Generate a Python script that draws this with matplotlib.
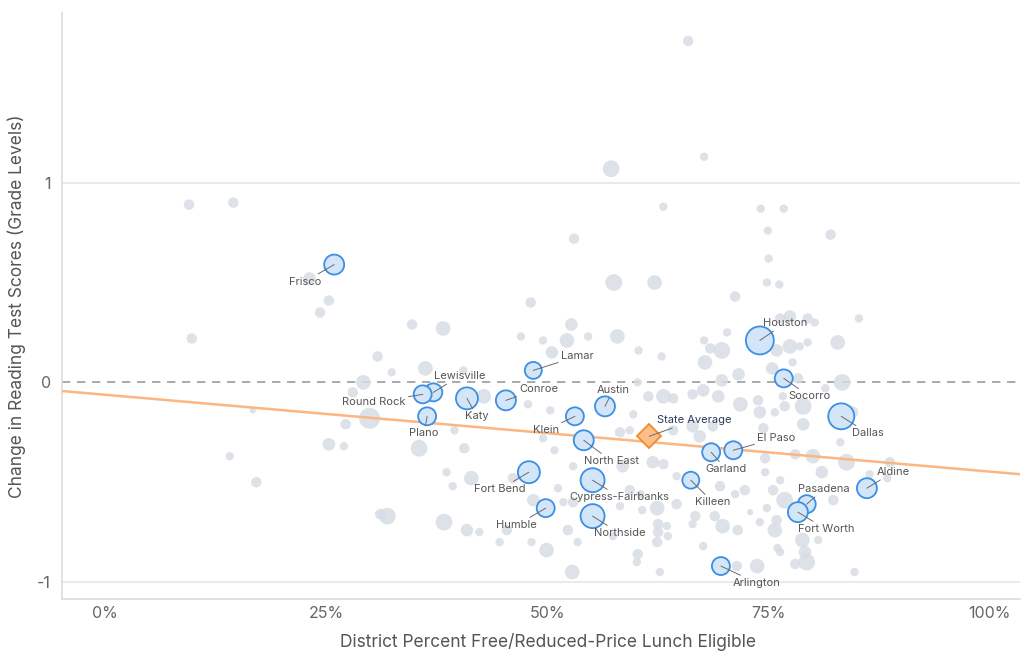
#!/usr/bin/env python3
"""
Change in reading test scores vs. share of students eligible for free/reduced lunch,
Texas school districts. Large districts are highlighted and labelled.
"""

import matplotlib

matplotlib.use("Agg")
import matplotlib.pyplot as plt
import numpy as np

# --- data ---
# all other districts (gray bubbles): % FRL eligible, change in grade levels, size (~enrollment, k)
other_frl = [
    65.9, 67.7, 57.2, 9.5, 14.5, 53.0, 63.1, 74.1, 76.7, 74.9, 82.0, 75.0, 57.5, 62.1, 48.1,
    23.1, 25.3, 24.3, 34.7, 38.2, 52.7, 47.0, 74.8, 76.2, 71.2, 85.2, 9.8, 30.8, 32.4, 36.2,
    40.5, 29.2, 29.9, 28.0, 27.2, 42.8, 47.8, 39.5, 16.7, 14.1, 17.1, 25.3, 27.0, 52.2, 49.5,
    54.6, 57.9, 60.3, 62.9, 50.5, 67.7, 68.4, 69.7, 67.8, 69.7, 60.2, 61.4, 63.1, 64.2, 66.4,
    67.6, 69.3, 50.3, 59.7, 64.2, 66.4, 68.7, 70.3, 77.4, 76.3, 79.4, 80.2, 75.9, 77.4, 78.5,
    79.4, 82.8, 77.7, 75.4, 71.6, 78.3, 83.3, 81.4, 73.8, 76.6, 71.8, 76.8, 78.9, 74.0, 75.7,
    78.9, 74.4, 84.4, 35.5, 40.6, 38.6, 41.4, 39.3, 46.1, 48.4, 31.1, 31.9, 38.3, 40.9, 42.3,
    45.4, 44.6, 48.2, 49.5, 50.8, 58.2, 59.3, 67.2, 61.9, 63.1, 58.5, 52.9, 64.6, 69.5, 51.2,
    59.3, 60.5, 51.8, 52.9, 58.2, 60.7, 62.4, 64.6, 66.7, 68.9, 69.8, 62.5, 63.5, 52.3, 66.4,
    62.5, 63.6, 57.4, 53.4, 62.4, 49.9, 67.6, 60.2, 60.1, 62.7, 52.8, 83.1, 74.6, 80.0, 78.0,
    83.8, 81.0, 74.6, 76.3, 75.5, 72.3, 71.2, 76.8, 82.3, 88.4, 74.8, 72.9, 75.9, 75.7, 74.0,
    71.5, 80.6, 78.8, 79.1, 76.0, 76.3, 78.0, 79.3, 73.7, 71.4, 84.7, 88.7, 86.4,
]
other_change = [
    1.71, 1.13, 1.07, 0.89, 0.90, 0.72, 0.88, 0.87, 0.87, 0.76, 0.74, 0.62, 0.50, 0.50, 0.40,
    0.52, 0.41, 0.35, 0.29, 0.27, 0.29, 0.23, 0.50, 0.49, 0.43, 0.32, 0.22, 0.13, 0.05, 0.07,
    0.06, 0.00, -0.18, -0.05, -0.21, -0.07, -0.11, -0.24, -0.14, -0.37, -0.50, -0.31, -0.32, 0.21, 0.21,
    0.23, 0.23, 0.16, 0.13, 0.15, 0.21, 0.17, 0.16, 0.10, 0.01, 0.00, -0.07, -0.07, -0.08, -0.06,
    -0.04, -0.07, -0.14, -0.16, -0.24, -0.22, -0.22, 0.25, 0.33, 0.32, 0.32, 0.30, 0.16, 0.18, 0.18,
    0.20, 0.20, 0.10, 0.07, 0.04, 0.02, 0.00, -0.03, -0.09, -0.07, -0.11, -0.12, -0.12, -0.15, -0.15,
    -0.21, -0.23, -0.15, -0.33, -0.33, -0.45, -0.48, -0.52, -0.48, -0.59, -0.66, -0.67, -0.70, -0.74, -0.75,
    -0.74, -0.80, -0.80, -0.28, -0.34, -0.25, -0.24, -0.27, -0.40, -0.41, -0.42, -0.42, -0.47, -0.52, -0.53,
    -0.54, -0.56, -0.60, -0.60, -0.62, -0.64, -0.63, -0.61, -0.67, -0.67, -0.72, -0.71, -0.72, -0.74, -0.71,
    -0.75, -0.77, -0.77, -0.80, -0.80, -0.84, -0.82, -0.86, -0.90, -0.95, -0.95, -0.30, -0.38, -0.37, -0.36,
    -0.40, -0.45, -0.45, -0.49, -0.54, -0.54, -0.56, -0.59, -0.59, -0.48, -0.63, -0.65, -0.69, -0.74, -0.70,
    -0.74, -0.79, -0.79, -0.85, -0.83, -0.85, -0.91, -0.90, -0.92, -0.92, -0.95, -0.40, -0.46,
]
other_enroll_k = [
    25, 16, 64, 25, 25, 25, 16, 16, 16, 16, 25, 16, 64, 49, 25,
    36, 25, 25, 25, 49, 36, 16, 16, 16, 25, 16, 25, 25, 16, 49,
    16, 49, 100, 25, 25, 49, 16, 16, 9, 16, 25, 36, 16, 49, 16,
    16, 49, 16, 16, 36, 16, 25, 64, 49, 36, 16, 25, 49, 25, 25,
    36, 36, 16, 16, 25, 36, 25, 16, 36, 25, 25, 16, 36, 49, 16,
    16, 49, 16, 36, 36, 25, 64, 16, 25, 16, 49, 25, 64, 36, 16,
    36, 25, 36, 64, 25, 16, 49, 16, 25, 36, 25, 64, 64, 36, 16,
    25, 16, 16, 16, 16, 25, 16, 36, 36, 25, 36, 16, 16, 25, 16,
    25, 16, 16, 25, 16, 16, 49, 25, 25, 25, 49, 25, 16, 25, 16,
    25, 16, 16, 16, 25, 49, 16, 25, 16, 16, 49, 16, 25, 49, 25,
    64, 36, 16, 16, 25, 25, 16, 64, 25, 16, 16, 9, 25, 49, 16,
    25, 16, 49, 36, 16, 16, 25, 64, 49, 25, 16, 25, 16,
]

# highlighted large districts
big_names = [
    "Frisco", "Houston", "Socorro", "Lewisville", "Round Rock", "Plano", "Katy", "Conroe",
    "Lamar", "Austin", "Klein", "North East", "Cypress-Fairbanks", "Fort Bend", "Humble",
    "Northside", "Garland", "El Paso", "Killeen", "Dallas", "Aldine", "Pasadena",
    "Fort Worth", "Arlington",
]
big_frl = [
    25.9, 74.0, 76.7, 37.1, 35.9, 36.4, 40.9, 45.3, 48.4, 56.5, 53.1, 54.1, 55.1, 47.9, 49.8,
    55.1, 68.5, 71.0, 66.2, 83.2, 86.1, 79.3, 78.3, 69.6,
]
big_change = [
    0.59, 0.21, 0.02, -0.05, -0.06, -0.17, -0.08, -0.09, 0.06, -0.12, -0.17, -0.29, -0.49, -0.45,
    -0.63, -0.67, -0.35, -0.34, -0.49, -0.17, -0.53, -0.61, -0.65, -0.92,
]
big_enroll_k = [
    100, 196, 81, 81, 81, 81, 121, 100, 72, 100, 81, 100, 144, 121, 81,
    144, 81, 81, 72, 169, 100, 81, 100, 81,
]

state_frl = 61.5
state_change = -0.27

# fitted trend line
trend_intercept = -0.062
trend_slope = -0.00385

# label placement (offset in pixels from bubble centre, text alignment)
label_layout = {
    "Frisco": (-13, -17, "right"),
    "Houston": (25, 17, "center"),
    "Socorro": (26, -18, "center"),
    "Lewisville": (26, 16, "center"),
    "Round Rock": (-17, -8, "right"),
    "Plano": (-3, -17, "center"),
    "Katy": (10, -18, "center"),
    "Conroe": (33, 11, "center"),
    "Lamar": (44, 14, "center"),
    "Austin": (8, 16, "center"),
    "Klein": (-16, -14, "right"),
    "North East": (28, -21, "center"),
    "Cypress-Fairbanks": (27, -17, "center"),
    "Fort Bend": (-3, -17, "right"),
    "Humble": (-29, -17, "center"),
    "Northside": (27, -17, "center"),
    "Garland": (15, -17, "center"),
    "El Paso": (43, 12, "center"),
    "Killeen": (22, -22, "center"),
    "Dallas": (27, -17, "center"),
    "Aldine": (26, 16, "center"),
    "Pasadena": (17, 15, "center"),
    "Fort Worth": (28, -17, "center"),
    "Arlington": (36, -17, "center"),
}

# size scale: marker area (pt^2) per thousand students
SIZE_SCALE = 2.07

plt.rcParams["font.family"] = ["Inter", "DejaVu Sans"]

fig = plt.figure(figsize=(10.22, 6.52), dpi=100)
ax = fig.add_axes([62 / 1022, 1 - 599 / 652, (1020 - 62) / 1022, (599 - 13) / 652])

ax.set_xlim(-4.86, 103.4)
ax.set_ylim(-1.085, 1.85)

# grid + reference lines
for yv in (1, -1):
    ax.axhline(yv, color="#e6e6e6", lw=1.2, zorder=0)
ax.axhline(0, color="#9c9c9c", lw=1.2, ls=(0, (5, 4)), zorder=1)

ax.scatter(
    other_frl, other_change, s=np.array(other_enroll_k) * SIZE_SCALE * 1.1,
    color="#d7dde6", alpha=0.85, linewidths=0, zorder=2,
)

tx = np.array([-6, 106])
ax.plot(tx, trend_intercept + trend_slope * tx, color="#fbb682", lw=1.8, zorder=3)

ax.scatter(
    big_frl, big_change, s=np.array(big_enroll_k) * SIZE_SCALE,
    facecolor="#d3e5f8", edgecolor="#3b8fe4", linewidths=1.3, zorder=4,
)

ax.plot(
    [state_frl], [state_change], marker="D", ms=12, mfc="#fdbf88", mec="#f08a2c",
    mew=1.3, ls="none", zorder=5,
)

for name, xv, yv in zip(big_names, big_frl, big_change):
    dx, dy, ha = label_layout[name]
    ax.annotate(
        name, xy=(xv, yv), xytext=(dx, dy), textcoords="offset pixels",
        ha=ha, va="center", fontsize=8, color="#555555", zorder=6,
        arrowprops=dict(arrowstyle="-", color="#6b6b6b", lw=0.7, shrinkA=0, shrinkB=0),
    )

ax.annotate(
    "State Average", xy=(state_frl, state_change), xytext=(45, 16),
    textcoords="offset pixels", ha="center", va="center", fontsize=8, color="#2c3a58",
    zorder=6,
    arrowprops=dict(arrowstyle="-", color="#6b6b6b", lw=0.7, shrinkA=0, shrinkB=0),
)

# axes styling
for side in ("top", "right"):
    ax.spines[side].set_visible(False)
for side in ("left", "bottom"):
    ax.spines[side].set_color("#dcdcdc")
    ax.spines[side].set_linewidth(1.2)

ax.set_xticks([0, 25, 50, 75, 100])
ax.set_xticklabels(["0%", "25%", "50%", "75%", "100%"])
ax.set_yticks([-1, 0, 1])
ax.set_yticklabels(["-1", "0", "1"])
ax.tick_params(length=0, labelsize=11.5, labelcolor="#666666")
ax.tick_params(axis="y", pad=8)
ax.tick_params(axis="x", pad=5)

ax.set_xlabel("District Percent Free/Reduced-Price Lunch Eligible", fontsize=12.5,
              color="#555555")
ax.set_ylabel("Change in Reading Test Scores (Grade Levels)", fontsize=12.5,
              color="#555555")
ax.xaxis.set_label_coords(0.507, -0.058)
ax.yaxis.set_label_coords(-0.0376, 0.5)

fig.savefig("out.png", dpi=100)
